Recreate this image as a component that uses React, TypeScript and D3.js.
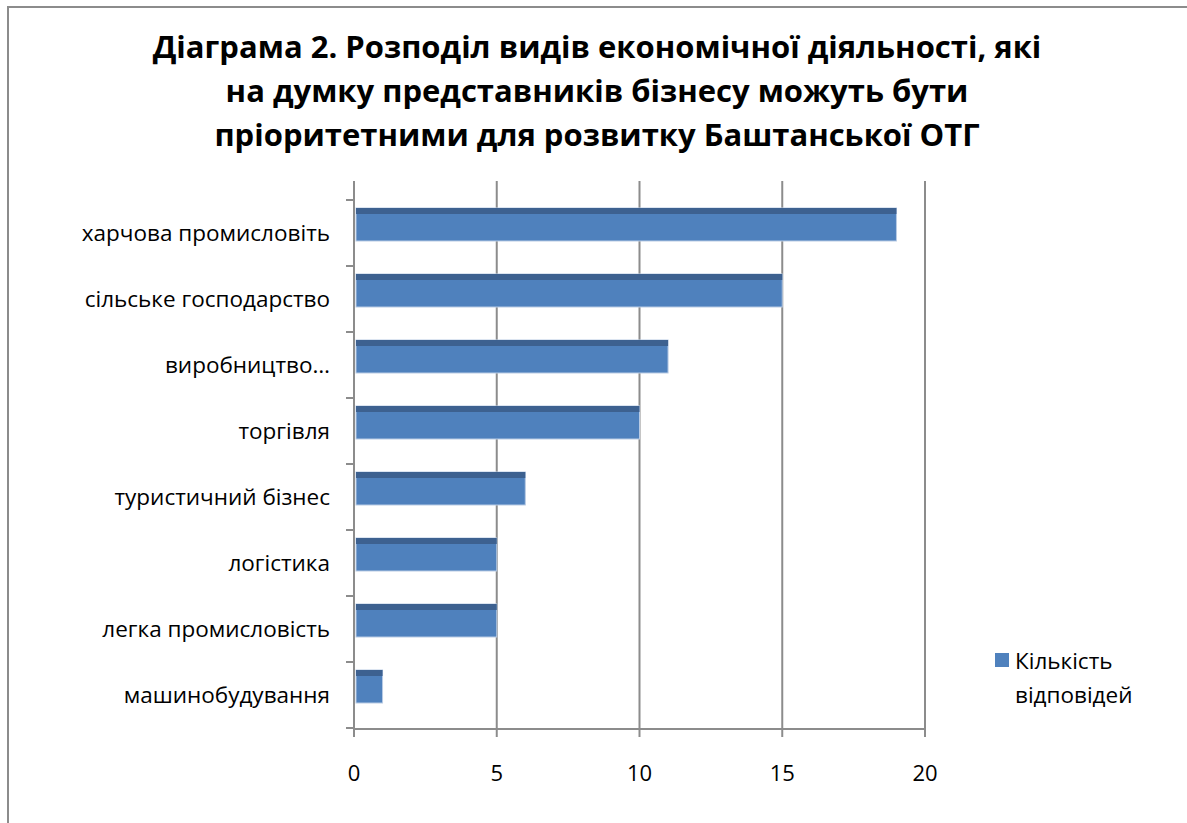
import React from "react";
import * as d3 from "d3";

const titleLines = [
  "Діаграма 2. Розподіл видів економічної діяльності, які",
  "на думку представників бізнесу можуть бути",
  "пріоритетними для розвитку Баштанської ОТГ",
];
const categories = [
  "харчова промисловіть",
  "сільське господарство",
  "виробництво…",
  "торгівля",
  "туристичний бізнес",
  "логістика",
  "легка промисловість",
  "машинобудування",
];
const values = [19, 15, 11, 10, 6, 5, 5, 1];
const xTicks = [0, 5, 10, 15, 20];
const seriesName = ["Кількість", "відповідей"];

const W = 1187;
const H = 823;

export default function App() {
  const x = d3.scaleLinear().domain([0, 20]).range([354, 925]);
  const y = d3.scaleBand().domain(categories).range([200, 728]).paddingInner(0);
  const bw = y.bandwidth();
  const gridTop = 181;
  const axisBottom = 729;
  const font = "'Open Sans', 'Noto Sans', sans-serif";

  return (
    <svg width={W} height={H} style={{ position: "absolute", left: 0, top: 0 }}>
      <rect x={0} y={0} width={W} height={H} fill="#fff" />
      {/* chart frame */}
      <rect x={8} y={7} width={W + 20} height={H + 20} fill="none" stroke="#8c8c8c" strokeWidth={2} />

      {/* title */}
      {titleLines.map((t, i) => (
        <text
          key={i}
          x={597}
          y={58 + i * 44}
          textAnchor="middle"
          fontFamily={font}
          fontWeight="bold"
          fontSize={31}
          fill="#000"
        >
          {t}
        </text>
      ))}

      {/* grid lines */}
      {xTicks.map((t) => (
        <line key={t} x1={x(t)} x2={x(t)} y1={gridTop} y2={axisBottom} stroke="#8c8c8c" strokeWidth={2} />
      ))}

      {/* bars */}
      {categories.map((c, i) => {
        const y0 = (y(c) as number) + bw * (8 / 66);
        const h = bw * 0.5;
        const x1 = x(values[i]);
        return (
          <g key={c}>
            <rect x={x(0) + 2} y={y0} width={x1 - x(0) - 2} height={h} fill="#4f81bd" stroke="#b9cbe4" strokeWidth={1} />
            <rect x={x(0) + 2} y={y0} width={x1 - x(0) - 2} height={6} fill="#3d6190" />
          </g>
        );
      })}

      {/* category axis */}
      <line x1={x(0)} x2={x(0)} y1={gridTop} y2={axisBottom} stroke="#8c8c8c" strokeWidth={2} />
      {[...categories.map((c) => y(c) as number), 728].map((v, i) => (
        <line key={i} x1={346} x2={x(0)} y1={v} y2={v} stroke="#8c8c8c" strokeWidth={2} />
      ))}
      {categories.map((c) => (
        <text
          key={c}
          x={330}
          y={(y(c) as number) + bw * (35 / 66)}
          textAnchor="end"
          dominantBaseline="middle"
          fontFamily={font}
          fontSize={22.5}
          fill="#000"
        >
          {c}
        </text>
      ))}

      {/* value axis */}
      <line x1={x(0) - 1} x2={x(20) + 1} y1={axisBottom} y2={axisBottom} stroke="#8c8c8c" strokeWidth={2} />
      {xTicks.map((t) => (
        <g key={t}>
          <line x1={x(t)} x2={x(t)} y1={axisBottom} y2={737} stroke="#8c8c8c" strokeWidth={2} />
          <text x={x(t)} y={781} textAnchor="middle" fontFamily={font} fontSize={22} fill="#000">
            {t}
          </text>
        </g>
      ))}

      {/* legend */}
      <rect x={995} y={653} width={14} height={14} fill="#4f81bd" />
      {seriesName.map((s, i) => (
        <text key={i} x={1015} y={669 + i * 34} fontFamily={font} fontSize={22.5} fill="#000">
          {s}
        </text>
      ))}
    </svg>
  );
}
